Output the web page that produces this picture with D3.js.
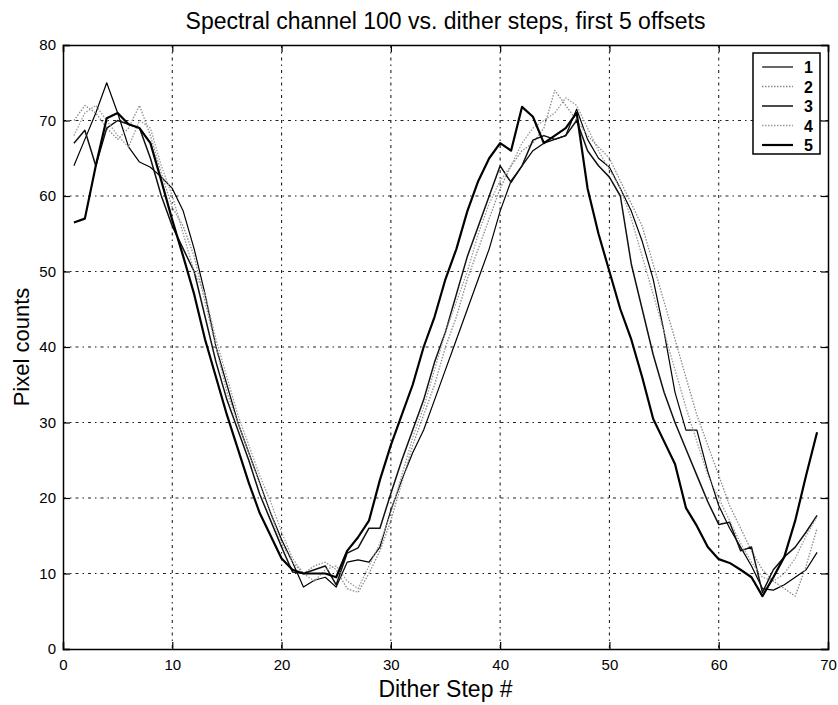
<!DOCTYPE html>
<html>
<head>
<meta charset="utf-8">
<script src="https://cdn.jsdelivr.net/npm/d3@7"></script>
<style>
  html, body { margin: 0; padding: 0; background: #fff; }
  svg { display: block; }
  text { font-family: "Liberation Sans", Arial, Helvetica, sans-serif; fill: #000; }
</style>
</head>
<body>
<svg id="chart" width="838" height="705"></svg>
<script>
// ---------- data ----------
const steps = d3.range(1, 70); // dither step numbers 1..69
const seriesNames = ["1", "2", "3", "4", "5"];
const xTicks = [0, 10, 20, 30, 40, 50, 60, 70];
const yTicks = [0, 10, 20, 30, 40, 50, 60, 70, 80];

const s1 = [64, 67.5, 71, 75, 71, 66.5, 64.5, 63.8, 62.5, 61, 58, 53, 47, 40, 35, 30, 26, 22, 18, 14.5, 11.5, 8.2, 9.1, 9.5, 8.2, 11.5, 11.8, 11.5, 13.5, 18.4, 22.4, 26, 29, 33, 37, 41, 45, 49, 53, 58, 62, 64, 66, 67, 67.5, 68, 71.5, 67.5, 65, 63.8, 61, 58, 54, 49, 42, 34, 29, 29, 23.5, 19, 16, 13.5, 11, 8, 7.8, 8.5, 9.5, 10.5, 12.8];
const s2 = [70, 72, 71, 69, 67.5, 69, 72, 68, 63, 58.5, 56, 52, 46, 40, 34, 30, 26, 22, 18, 14, 11.5, 10, 11, 11.5, 10.5, 8, 7.5, 10, 13, 17, 22, 27, 31, 35, 40, 44, 49, 53, 57, 61, 64, 66, 67, 69, 74, 72, 70, 68, 66.5, 65, 62, 59, 56, 51, 46, 41, 36, 31, 27, 23, 19, 16, 13, 10.5, 9, 8, 7, 11, 16];
const s3 = [67, 68.7, 64, 69, 70, 69.5, 69, 65, 60, 56, 53, 50, 44, 38, 33, 29, 25, 20.5, 17, 13.5, 10.2, 10, 10.5, 11, 8.5, 12.7, 13.4, 16, 16, 20.6, 25, 29, 33, 38, 42, 47, 52, 56, 60, 64, 61.8, 64, 67.4, 68, 67.5, 68, 70, 66, 64, 62.5, 60, 51, 45, 39, 34, 30, 26.5, 23, 19.5, 16.5, 16.8, 13, 13.5, 7.5, 10.5, 12.2, 13.5, 15.5, 17.7];
const s4 = [68, 71, 72, 70, 68, 66.5, 70, 69, 64, 60, 55, 50, 47, 41, 36, 31, 27, 23, 19.5, 15.5, 12, 10, 9, 10.5, 11, 9, 8, 11, 14, 18, 23, 28, 32, 37, 42, 46, 50, 55, 59, 62, 64, 67, 69, 70, 71, 73, 72, 69, 66, 63.5, 61, 57, 52, 47, 42, 37, 32, 27.5, 23, 20, 17, 14, 11.5, 9.5, 9, 10, 12, 15, 17.5];
const s5 = [56.5, 57, 64, 70.3, 71, 69.5, 69, 67, 62, 56.8, 52, 47, 41, 36, 31, 26.5, 22, 18, 15, 12, 10.5, 10, 10, 10, 9.5, 13, 14.8, 17, 22.4, 27, 31, 35, 40, 44, 49, 53, 58, 62, 65, 67, 66, 71.8, 70.5, 67, 68, 69, 71, 61, 55, 50, 45, 41, 36, 30.5, 27.5, 24.5, 18.7, 16.3, 13.5, 11.9, 11.4, 10.5, 9.5, 7, 9.5, 12.2, 17, 23, 28.7];

const seriesValues = [s1, s2, s3, s4, s5];
const seriesStroke = ["#000", "#8a8a8a", "#111", "#9a9a9a", "#000"];
const seriesWidth = [1.2, 1.3, 1.5, 1.3, 2.2];
const seriesDash = [null, "1.5,1.5", null, "1.5,1.5", null];

// ---------- layout ----------
const L = 63, R = 828, T = 45, B = 649;
const svg = d3.select("#chart");
const x = d3.scaleLinear().domain([0, 70]).range([L, R]);
const y = d3.scaleLinear().domain([0, 80]).range([B, T]);

// grid
const grid = svg.append("g").attr("stroke", "#222").attr("stroke-width", 1.1)
  .attr("stroke-dasharray", "3,4,1.5,4");
grid.selectAll("line.v").data(xTicks.filter(d => d > 0 && d < 70)).enter().append("line")
  .attr("x1", d => x(d)).attr("x2", d => x(d)).attr("y1", T).attr("y2", B);
grid.selectAll("line.h").data(yTicks.filter(d => d > 0 && d < 80)).enter().append("line")
  .attr("y1", d => y(d)).attr("y2", d => y(d)).attr("x1", L).attr("x2", R);

// lines
const line = d3.line().x((d, i) => x(steps[i])).y(d => y(d));
seriesValues.forEach((vals, k) => {
  svg.append("path").datum(vals)
    .attr("d", line)
    .attr("fill", "none")
    .attr("stroke", seriesStroke[k])
    .attr("stroke-width", seriesWidth[k])
    .attr("stroke-dasharray", seriesDash[k])
    .attr("stroke-linejoin", "round");
});

// axes (MATLAB style, ticks inside on all four sides)
const tickLen = 7;
const fontTick = "15px";
const axB = svg.append("g").attr("transform", `translate(0,${B})`)
  .call(d3.axisBottom(x).tickValues(xTicks).tickSize(-tickLen).tickPadding(10).tickFormat(d3.format("d")));
const axT = svg.append("g").attr("transform", `translate(0,${T})`)
  .call(d3.axisTop(x).tickValues(xTicks).tickSize(-tickLen).tickFormat(""));
const axL = svg.append("g").attr("transform", `translate(${L},0)`)
  .call(d3.axisLeft(y).tickValues(yTicks).tickSize(-tickLen).tickPadding(7).tickFormat(d3.format("d")));
const axR = svg.append("g").attr("transform", `translate(${R},0)`)
  .call(d3.axisRight(y).tickValues(yTicks).tickSize(-tickLen).tickFormat(""));
[axB, axT, axL, axR].forEach(a => {
  a.select(".domain").attr("stroke", "#000").attr("stroke-width", 1.5);
  a.selectAll(".tick line").attr("stroke", "#000").attr("stroke-width", 1.2);
  a.selectAll("text").style("font-size", fontTick).style("font-family", '"Liberation Sans", Arial, sans-serif').attr("fill", "#000");
});

// title and labels
svg.append("text").attr("x", (L + R) / 2).attr("y", 29).attr("text-anchor", "middle")
  .style("font-size", "23px").text("Spectral channel 100 vs. dither steps, first 5 offsets");
svg.append("text").attr("x", (L + R) / 2).attr("y", 697).attr("text-anchor", "middle")
  .style("font-size", "23px").text("Dither Step #");
svg.append("text").attr("transform", `translate(29,${(T + B) / 2}) rotate(-90)`).attr("text-anchor", "middle")
  .style("font-size", "22px").text("Pixel counts");

// legend
const lg = svg.append("g");
const lgX = 753, lgY = 53, lgW = 67, lgH = 101;
lg.append("rect").attr("x", lgX).attr("y", lgY).attr("width", lgW).attr("height", lgH)
  .attr("fill", "#fff").attr("stroke", "#000").attr("stroke-width", 1.5);
const ly = d3.scalePoint().domain(seriesNames).range([lgY + 14, lgY + 92]);
seriesNames.forEach((nm, k) => {
  lg.append("line").attr("x1", lgX + 9).attr("x2", lgX + 40).attr("y1", ly(nm)).attr("y2", ly(nm))
    .attr("stroke", seriesStroke[k]).attr("stroke-width", seriesWidth[k])
    .attr("stroke-dasharray", seriesDash[k]);
  lg.append("text").attr("x", lgX + 51).attr("y", ly(nm) + 6).style("font-size", "16px")
    .style("font-weight", "bold").text(nm);
});
</script>
</body>
</html>
